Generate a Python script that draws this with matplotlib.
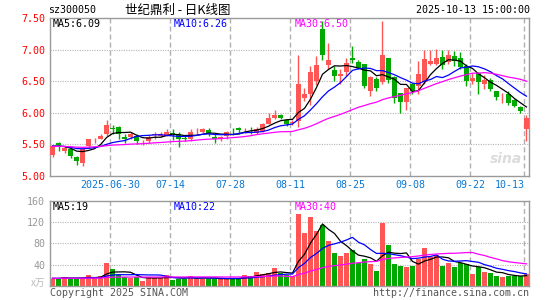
import numpy as np
import pandas as pd
import matplotlib
matplotlib.use('Agg')
import matplotlib.pyplot as plt

# --- Data: 80 trading days, 2025-06-16 .. 2025-10-13 ---
opens = [5.33, 5.52, 5.39, 5.42, 5.30, 5.21, 5.47, 5.585, 5.59, 5.66,
         5.76, 5.78, 5.62, 5.62, 5.64, 5.55, 5.55, 5.655, 5.64, 5.64,
         5.675, 5.67, 5.595, 5.58, 5.69, 5.69, 5.72, 5.62, 5.58, 5.64,
         5.715, 5.76, 5.725, 5.725, 5.685, 5.71, 5.83, 5.91, 5.96, 5.89,
         5.84, 5.87, 6.24, 6.29, 6.50, 7.32, 6.76, 6.67, 6.59, 6.64,
         6.86, 6.80, 6.77, 6.34, 6.54, 6.48, 6.86, 6.57, 6.31, 6.17,
         6.45, 6.42, 6.48, 6.77, 6.77, 6.88, 6.80, 6.90, 6.86, 6.74,
         6.50, 6.63, 6.45, 6.52, 6.34, 6.23, 6.29, 6.20, 6.09, 5.74]
highs = [5.48, 5.54, 5.47, 5.46, 5.32, 5.44, 5.59, 5.60, 5.67, 5.88,
         5.80, 5.79, 5.66, 5.69, 5.67, 5.57, 5.65, 5.69, 5.70, 5.74,
         5.75, 5.69, 5.63, 5.74, 5.76, 5.76, 5.76, 5.67, 5.64, 5.71,
         5.76, 5.78, 5.76, 5.78, 5.77, 5.84, 5.99, 6.05, 5.98, 5.90,
         5.88, 6.92, 6.40, 6.74, 6.90, 7.46, 7.11, 6.74, 6.69, 6.87,
         7.06, 6.84, 6.78, 6.58, 6.56, 7.45, 6.87, 6.58, 6.32, 6.40,
         6.47, 6.82, 6.99, 6.99, 7.01, 6.99, 6.99, 6.98, 6.96, 6.77,
         6.63, 6.65, 6.60, 6.55, 6.35, 6.32, 6.34, 6.22, 6.10, 5.97]
lows = [5.30, 5.39, 5.37, 5.28, 5.18, 5.16, 5.45, 5.52, 5.58, 5.64,
        5.67, 5.59, 5.53, 5.59, 5.50, 5.49, 5.52, 5.58, 5.62, 5.63,
        5.57, 5.46, 5.56, 5.55, 5.66, 5.68, 5.64, 5.52, 5.56, 5.58,
        5.65, 5.66, 5.68, 5.66, 5.66, 5.70, 5.82, 5.90, 5.90, 5.79,
        5.81, 5.78, 6.18, 6.13, 6.44, 6.84, 6.70, 6.51, 6.45, 6.58,
        6.79, 6.69, 6.40, 6.26, 6.34, 6.45, 6.47, 6.16, 6.00, 6.04,
        6.30, 6.29, 6.45, 6.75, 6.75, 6.69, 6.78, 6.74, 6.70, 6.42,
        6.46, 6.29, 6.37, 6.34, 6.21, 6.16, 6.13, 6.09, 5.99, 5.55]
closes = [5.47, 5.49, 5.45, 5.32, 5.24, 5.43, 5.58, 5.59, 5.64, 5.80,
          5.75, 5.66, 5.59, 5.67, 5.56, 5.555, 5.62, 5.66, 5.67, 5.69,
          5.67, 5.58, 5.59, 5.69, 5.695, 5.74, 5.68, 5.58, 5.62, 5.69,
          5.71, 5.72, 5.73, 5.72, 5.75, 5.83, 5.91, 5.97, 5.91, 5.83,
          5.86, 6.46, 6.29, 6.64, 6.75, 6.91, 6.84, 6.58, 6.62, 6.79,
          6.83, 6.71, 6.42, 6.57, 6.40, 6.92, 6.52, 6.24, 6.17, 6.39,
          6.35, 6.61, 6.85, 6.82, 6.87, 6.75, 6.91, 6.82, 6.73, 6.50,
          6.55, 6.48, 6.52, 6.37, 6.25, 6.24, 6.16, 6.11, 6.03, 5.92]
# volume, unit: 万
volumes = [12.7, 14, 17, 14, 14, 14, 19.6, 15, 17.8, 43.8,
           32.4, 21, 15.9, 14, 17, 9.5, 17, 15, 15, 19.6,
           11.5, 13.3, 13.3, 19, 13.3, 13.3, 13.3, 13.3, 13.3, 13.3,
           13.3, 13.3, 21, 19, 26.7, 22.2, 24.1, 33, 24.1, 20.3,
           17.8, 135, 99.7, 130, 102.9, 115.6, 83.8, 61, 57, 61,
           66.7, 43, 50.8, 41.9, 28.6, 118.7, 76.2, 41.9, 38.1, 34.9,
           38.1, 50.8, 71.1, 54, 57.1, 38.1, 43.2, 36.2, 43.2, 41.3,
           22.2, 36.2, 26.7, 24.1, 19, 17, 19, 18, 18, 23]
# days before the window, only used to seed the moving averages
prev_closes = [5.50, 5.46, 5.44, 5.48, 5.51, 5.47, 5.45, 5.43, 5.46, 5.49,
               5.52, 5.48, 5.45, 5.47, 5.44, 5.42, 5.46, 5.50, 5.48, 5.45,
               5.47, 5.49, 5.46, 5.44, 5.47, 5.50, 5.48, 5.45, 5.47]
prev_volumes = [13, 15, 12, 16, 14, 13, 15, 14, 12, 17, 14, 13, 15, 14, 16,
                12, 14, 15, 13, 14, 16, 13, 14, 15, 12, 14, 13, 15, 14]

date_ticks = [10, 20, 30, 40, 50, 60, 70, 79]
date_labels = ['2025-06-30', '07-14', '07-28', '08-11', '08-25', '09-08', '09-22', '10-13']
price_ticks = [5.0, 5.5, 6.0, 6.5, 7.0, 7.5]
vol_ticks = [40, 80, 120, 160]
price_ma_text = ['MA5:6.09', 'MA10:6.26', 'MA30:6.50']
vol_ma_text = ['MA5:19', 'MA10:22', 'MA30:40']

# --- Style ---
RED = '#ff5555'
GREEN = '#00a800'
MA_COLORS = ['black', '#0000ff', '#ff00ff']
MONO = 'DejaVu Sans Mono'
CJK = ['Noto Sans CJK SC', 'DejaVu Sans']
W, H = 545, 300

o, h, l, c = map(np.array, (opens, highs, lows, closes))
v = np.array(volumes)
idx = np.arange(len(c))
colors = np.where(c >= o, RED, GREEN)


def moving_avgs(prev, vals):
    s = pd.Series(list(prev) + list(vals))
    return [s.rolling(w).mean().iloc[len(prev):].values for w in (5, 10, 30)]


fig = plt.figure(figsize=(W / 100, H / 100), dpi=100)
ax = fig.add_axes([50 / W, 1 - 176 / H, 479 / W, 158 / H])
axv = fig.add_axes([50 / W, 1 - 285.7 / H, 479 / W, 84.7 / H])

# grid lines offset half a body to the left, like the source chart
grid_x = np.array(date_ticks) - 0.35
for a, hlines in ((ax, [5.5, 6.0, 6.5, 7.0]), (axv, [40, 80, 120])):
    for y in hlines:
        a.axhline(y, color='#b4b4b4', lw=0.8, ls=(0, (1, 1.2)), zorder=0)
    for x in grid_x:
        a.axvline(x, color='#b0b0b0', lw=1.0, ls=(0, (3.6, 2.2)), zorder=0)
    for s in a.spines.values():
        s.set_color('#9a9a9a')
        s.set_linewidth(1.0)
    a.set_xlim(-0.42, 79.42)
    a.tick_params(length=0)

# --- Candles ---
ax.vlines(idx, l, h, colors=colors, lw=1.0, zorder=2)
ax.bar(idx, np.maximum(np.abs(c - o), 0.008), bottom=np.minimum(o, c),
       width=0.8, color=colors, linewidth=0, zorder=3)
for ma, col in zip(moving_avgs(prev_closes, closes), MA_COLORS):
    ax.plot(idx, ma, color=col, lw=0.9, zorder=4)
ax.set_ylim(5.0, 7.5)
ax.set_yticks(price_ticks)
ax.set_yticklabels(['%.2f' % t for t in price_ticks], color='#ff0000',
                   fontfamily=MONO, fontsize=7.2)
ax.set_xticks(grid_x)
ax.set_xticklabels(date_labels, color='#0a78d2', fontfamily=MONO, fontsize=7.2)
ax.tick_params(axis='y', pad=3.5)
ax.tick_params(axis='x', pad=3)
ax.get_xticklabels()[-1].set_ha('right')
ax.text(0.985, 0.11, 'sina', transform=ax.transAxes, ha='right', va='center',
        fontsize=10, fontweight='bold', fontstyle='italic', color='#dcdcdc', zorder=1)

# --- Volume ---
axv.bar(idx, v, width=0.8, color=colors, linewidth=0, zorder=2)
for ma, col in zip(moving_avgs(prev_volumes, volumes), MA_COLORS):
    axv.plot(idx, ma, color=col, lw=0.9, zorder=4)
axv.set_ylim(0, 160)
axv.set_yticks(vol_ticks)
axv.set_yticklabels([str(t) for t in vol_ticks], color='#999999',
                    fontfamily=MONO, fontsize=7.2)
axv.tick_params(axis='y', pad=3.5)
axv.set_xticks([])

# --- Texts ---
for txt, col, x in zip(price_ma_text, MA_COLORS, (53, 174, 295)):
    fig.text(x / W, 1 - 24 / H, txt, color=col, fontfamily=MONO,
             fontsize=7.2, va='center')
for txt, col, x in zip(vol_ma_text, MA_COLORS, (53, 174, 295)):
    fig.text(x / W, 1 - 207 / H, txt, color=col, fontfamily=MONO,
             fontsize=7.2, va='center')
fig.text(48 / W, 1 - 10 / H, 'sz300050', fontfamily=MONO, fontsize=7.2, va='center')
fig.text(178 / W, 1 - 10 / H, '世纪鼎利 - 日K线图', family=CJK, fontsize=9,
         ha='center', va='center')
fig.text(530 / W, 1 - 10 / H, '2025-10-13 15:00:00', fontfamily=MONO,
         fontsize=7.2, ha='right', va='center')
fig.text(45 / W, 1 - 283 / H, 'x万', family=CJK, fontsize=7, color='#bbbbbb',
         ha='right', va='center')
fig.text(50 / W, 1 - 293 / H, 'Copyright 2025 SINA.COM', fontfamily=MONO,
         fontsize=7.2, color='#555555', va='center')
fig.text(529 / W, 1 - 293 / H, 'http://finance.sina.com.cn', fontfamily=MONO,
         fontsize=7.2, color='#555555', ha='right', va='center')

fig.savefig('out.png', dpi=100)
